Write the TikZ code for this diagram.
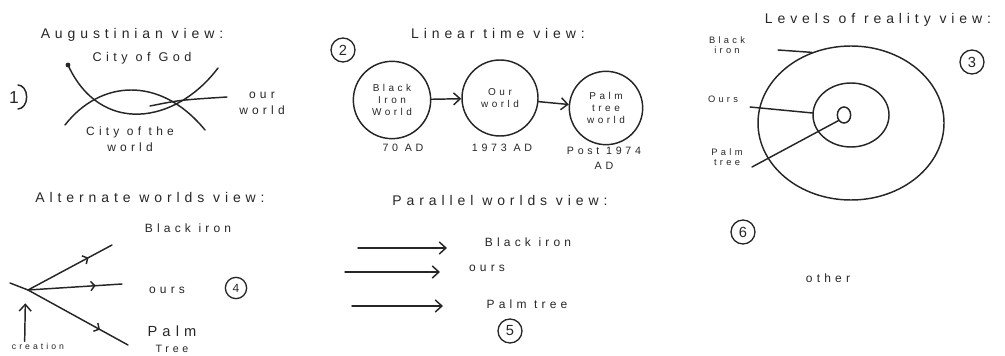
\documentclass[tikz,border=0pt]{standalone}
\usepackage{fontspec}
\setmainfont[LetterSpace=35]{Liberation Sans}
\usetikzlibrary{arrows.meta,shapes.geometric,decorations.markings}
\begin{document}
\begin{tikzpicture}[x=0.75pt,y=-0.75pt,
  ink/.style={draw=black!85, line width=1.1pt, line cap=round, line join=round},
  hand/.style={font=\fontsize{10.5}{11}\selectfont, text=black!85, inner sep=1pt, align=center},
  small/.style={hand, font=\fontsize{8}{9.5}\selectfont},
  num/.style={circle, draw=black!85, line width=1pt, inner sep=1.2pt, minimum size=18pt, font=\fontsize{11}{11}\selectfont, text=black!85},
  world/.style={circle, draw=black!85, line width=1.1pt, align=center, inner sep=0pt, font=\fontsize{7.5}{9}\selectfont, text=black!85},
  arr/.style={ink, -{Straight Barb[length=5pt,width=9pt]}},
  tick/.style={ink, postaction={decorate}, decoration={markings, mark=at position 0.72 with {\arrow{Straight Barb[length=3pt,width=7pt]}}}}]
\useasboundingbox (0,0) rectangle (1005,356);

% ---------- 1: Augustinian view
\node[hand] (t1) at (132,35) {Augustinian view:};
\node[hand, font=\fontsize{9.5}{11}\selectfont] (cog) at (142,58) {City of God};
\node[hand, font=\fontsize{13}{13}\selectfont] (n1) at (14,98) {1};
\draw[ink] (18,85) arc[start angle=90, end angle=-90, x radius=6.5pt, y radius=9pt];
\coordinate (a0) at (68,65);
\coordinate (a1) at (218,68);
\coordinate (b0) at (65,125);
\coordinate (b1) at (205,130);
\fill[black!85] (a0) circle[radius=1.8pt];
\draw[ink] (a0) .. controls (100,135) and (175,125) .. (a1);
\draw[ink] (b0) .. controls (100,80) and (160,75) .. (b1);
\node[small, font=\fontsize{9}{12}\selectfont] (ow1) at (262,103) {our\\world};
\coordinate (ow0) at (150,106);
\draw[ink] (ow0) .. controls (180,100) .. ([xshift=-8pt]ow1.west |- 0,97);
\node[small, font=\fontsize{9}{12}\selectfont] (cow) at (130,139) {City of the\\world};

% ---------- 2: Linear time view
\node[hand] (t2) at (498,33) {Linear time view:};
\node[num] (n2) at (343,50) {2};
\node[world, minimum size=58pt] (w1) at (392,100) {Black\\Iron\\World};
\node[world, minimum size=57pt] (w2) at (500,98) {Our\\world};
\node[world, minimum size=55pt] (w3) at (606,108) {Palm\\tree\\world};
\draw[arr] (w1) -- (w2);
\draw[arr] (w2) -- (w3);
\node[small] (d1) at (403,148) {70 AD};
\node[small] (d2) at (502,148) {1973 AD};
\node[small, font=\fontsize{8}{11}\selectfont] (d3) at (604,158) {Post 1974\\AD};

% ---------- 3: Levels of reality view
\node[hand] (t3) at (878,20) {Levels of reality view:};
\node[num] (n3) at (972,62) {3};
\node[ellipse, draw=black!85, line width=1.1pt, minimum width=139.5pt, minimum height=115.5pt, inner sep=0pt] (outer) at (851,123) {};
\node[ellipse, draw=black!85, line width=1.1pt, minimum width=57pt, minimum height=48pt, inner sep=0pt] (inner) at (851,115) {};
\node[ellipse, draw=black!85, line width=1.1pt, minimum width=10pt, minimum height=12pt, inner sep=0pt] (core) at (844,115) {};
\node[small, font=\fontsize{7}{8}\selectfont] (lbi) at (727,45) {Black\\iron};
\node[small, font=\fontsize{7}{8}\selectfont] (lours) at (723,99) {Ours};
\node[small, font=\fontsize{7}{8}\selectfont] (lpt) at (727,157) {Palm\\tree};
\coordinate (bi0) at (778,50);
\coordinate (ou0) at (750,107);
\coordinate (pt0) at (752,167);
\draw[ink] (bi0) -- (outer.119);
\draw[ink] (ou0) -- (inner.177);
\draw[ink] (pt0) -- (core.225);
\node[num] (n6) at (743,232) {6};
\node[small, font=\fontsize{9}{10}\selectfont] (oth) at (828,278) {other};

% ---------- 4: Alternate worlds view
\node[hand] (t4) at (150,197) {Alternate worlds view:};
\coordinate (o4) at (28,290);
\coordinate (e1) at (112,245);
\coordinate (e2) at (122,284);
\coordinate (e3) at (128,345);
\coordinate (s4) at (10,283);
\draw[ink] (s4) -- (o4);
\draw[tick] (o4) -- (e1);
\draw[tick] (o4) -- (e2);
\draw[tick] (o4) -- (e3);
\node[small, font=\fontsize{9}{10}\selectfont] (bi4) at (188,228) {Black iron};
\node[small, font=\fontsize{9}{10}\selectfont] (ou4) at (167,290) {ours};
\node[num, minimum size=16pt, font=\fontsize{9}{9}\selectfont] (n4) at (236,288) {4};
\node[hand, font=\fontsize{11}{12}\selectfont] (pt4) at (172,339) {Palm\\{\fontsize{8}{8}\selectfont Tree}};
\node[small, font=\fontsize{6.5}{8}\selectfont] (cr) at (38,346) {creation};
\draw[arr] ([xshift=-10pt]cr.north) -- ([xshift=-2pt,yshift=-10pt]o4);

% ---------- 5: Parallel worlds view
\node[hand] (t5) at (500,200) {Parallel worlds view:};
\node[small, font=\fontsize{9}{10}\selectfont] (p1) at (528,242) {Black iron};
\node[small, font=\fontsize{9}{10}\selectfont] (p2) at (487,268) {ours};
\node[small, font=\fontsize{9}{10}\selectfont] (p3) at (527,304) {Palm tree};
\coordinate (q1) at (358,248);
\coordinate (q2) at (345,272);
\coordinate (q3) at (352,306);
\draw[arr] (q1) -- (447,248);
\draw[arr] (q2) -- (440,272);
\draw[arr] (q3) -- (443,306);
\node[num] (n5) at (510,331) {5};
\end{tikzpicture}
\end{document}
